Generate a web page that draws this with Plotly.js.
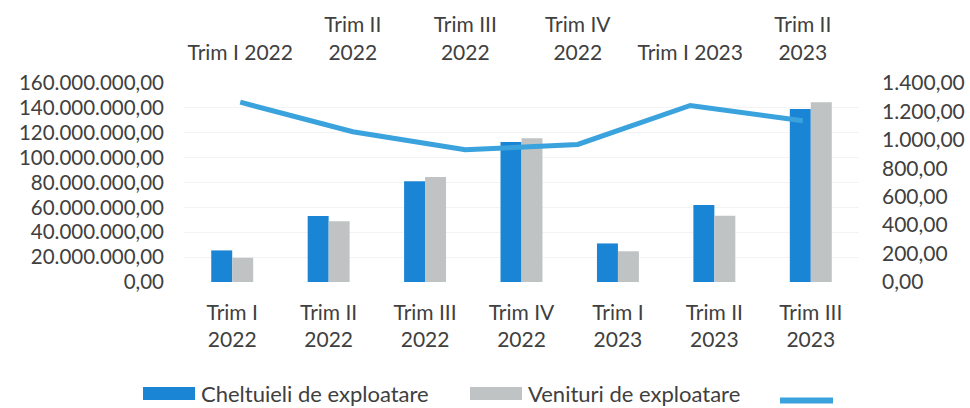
<!DOCTYPE html>
<html>
<head>
<meta charset="utf-8">
<script src="https://cdn.plot.ly/plotly-3.0.1.min.js"></script>
<style>html,body{margin:0;padding:0;background:#fff;}#chart{width:970px;height:408px;}</style>
</head>
<body>
<div id="chart"></div>
<script>
// ---- data ----
const categories = ["Trim I<br>2022", "Trim II<br>2022", "Trim III<br>2022", "Trim IV<br>2022", "Trim I<br>2023", "Trim II<br>2023", "Trim III<br>2023"];
const lineCategories = ["Trim I 2022", "Trim II<br>2022", "Trim III<br>2022", "Trim IV<br>2022", "Trim I 2023", "Trim II<br>2023"];
const cheltuieli = [25.4e6, 53e6, 81e6, 112.5e6, 31e6, 62e6, 139e6];
const venituri = [19.5e6, 48.8e6, 84.5e6, 115.5e6, 24.7e6, 53.3e6, 144.5e6];
const lineValues = [1265, 1057, 930, 968, 1242, 1135];
const seriesNames = ["Cheltuieli de exploatare", "Venituri de exploatare", ""];
const leftTicks = [0, 20e6, 40e6, 60e6, 80e6, 100e6, 120e6, 140e6, 160e6];
const rightTicks = [0, 200, 400, 600, 800, 1000, 1200, 1400];

// Romanian number formatting: 160.000.000,00
function fmtRo(v) {
  const parts = v.toFixed(2).split(".");
  const intPart = parts[0].replace(/\B(?=(\d{3})+(?!\d))/g, ".");
  return intPart + "," + parts[1];
}

const W = 970, H = 408;
const L = 184, R = 859, T = 83, B = 282;
const px = x => (x - L) / (R - L);
const py = y => (B - y) / (B - T);

const textColor = "#404040";
const font = "Lato, Open Sans, sans-serif";

const traces = [
  {type: "bar", name: seriesNames[0], x: categories, y: cheltuieli, marker: {color: "#1a84d5"}, xaxis: "x", yaxis: "y", showlegend: false},
  {type: "bar", name: seriesNames[1], x: categories, y: venituri, marker: {color: "#c0c3c3"}, xaxis: "x", yaxis: "y", showlegend: false},
  {type: "scatter", mode: "lines", name: seriesNames[2], x: lineCategories, y: lineValues, line: {color: "#3aa2dc", width: 5}, xaxis: "x2", yaxis: "y2", showlegend: false}
];

const layout = {
  width: W, height: H,
  margin: {l: L, r: W - R, t: T, b: H - B, pad: 0},
  paper_bgcolor: "#fff", plot_bgcolor: "#fff",
  font: {family: font, color: textColor, size: 21},
  showlegend: false,
  barmode: "group", bargap: 0.565, bargroupgap: 0,
  xaxis: {type: "category", categoryorder: "array", categoryarray: categories, range: [-0.5, 6.5],
          showline: false, showgrid: false, zeroline: false, ticks: "", tickfont: {size: 21, family: font, color: textColor},
          ticklabelstandoff: 16, fixedrange: true},
  xaxis2: {type: "category", categoryorder: "array", categoryarray: lineCategories, range: [-0.5, 5.5],
           overlaying: "x", side: "top", anchor: "y", showline: false, showgrid: false, zeroline: false, ticks: "",
           tickfont: {size: 21, family: font, color: textColor}, ticklabelstandoff: 18, fixedrange: true},
  yaxis: {range: [0, 160e6], tickvals: leftTicks, ticktext: leftTicks.map(fmtRo), showline: false,
          showgrid: true, gridcolor: "#f3f3f3", gridwidth: 1, zeroline: false, ticks: "",
          tickfont: {size: 20.5, family: font, color: textColor}, ticklabelstandoff: 19, fixedrange: true},
  yaxis2: {range: [0, 1400], tickvals: rightTicks, ticktext: rightTicks.map(fmtRo), overlaying: "y", side: "right",
           showline: false, showgrid: false, zeroline: false, ticks: "",
           tickfont: {size: 21, family: font, color: textColor}, ticklabelstandoff: 22, fixedrange: true},
  shapes: [
    {type: "rect", xref: "paper", yref: "paper", x0: px(143), x1: px(195), y0: py(400), y1: py(387), fillcolor: "#1a84d5", line: {width: 0}},
    {type: "rect", xref: "paper", yref: "paper", x0: px(470), x1: px(522), y0: py(400), y1: py(387), fillcolor: "#c0c3c3", line: {width: 0}},
    {type: "line", xref: "paper", yref: "paper", x0: px(780), x1: px(833), y0: py(400.5), y1: py(400.5), line: {color: "#3aa2dc", width: 6}}
  ],
  annotations: [
    {xref: "paper", yref: "paper", x: px(199), y: py(393), xanchor: "left", yanchor: "middle", text: seriesNames[0], showarrow: false, font: {size: 22, family: font, color: textColor}},
    {xref: "paper", yref: "paper", x: px(526), y: py(393), xanchor: "left", yanchor: "middle", text: seriesNames[1], showarrow: false, font: {size: 22, family: font, color: textColor}}
  ]
};

Plotly.newPlot("chart", traces, layout, {displayModeBar: false, staticPlot: true});
</script>
</body>
</html>
